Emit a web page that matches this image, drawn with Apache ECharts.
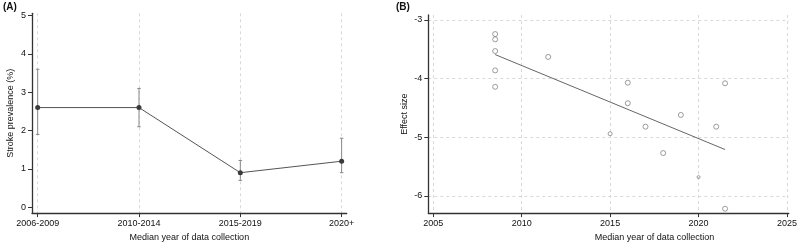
<!DOCTYPE html>
<html>
<head>
<meta charset="utf-8">
<script src="https://cdn.jsdelivr.net/npm/echarts@6/dist/echarts.min.js"></script>
<style>
    html, body { margin: 0; padding: 0; background: #fff; }
    #chart { width: 800px; height: 247px; }
</style>
</head>
<body>
<div id="chart"></div>
<script>
/* ===========================
   Data
=========================== */

// (A) stroke prevalence by period
const periods = ["2006-2009", "2010-2014", "2015-2019", "2020+"];
const prevalence = [2.6, 2.6, 0.9, 1.2];
const ciLow = [1.9, 2.1, 0.7, 0.9];
const ciHigh = [3.6, 3.1, 1.22, 1.8];
const prevTicks = [0, 1, 2, 3, 4, 5];

// (B) effect size vs median year
const years = [2008.5, 2008.5, 2008.5, 2008.5, 2008.5, 2011.5, 2016, 2016, 2015,
               2017, 2018, 2019, 2020, 2021, 2021.5, 2021.5];
const effects = [-3.24, -3.33, -3.53, -3.86, -4.14, -3.63, -4.07, -4.42, -4.94,
                 -4.82, -5.27, -4.62, -5.68, -4.82, -4.08, -6.22];
const weights = [1, 1, 1, 1, 1, 1, 1, 1, 0.8, 1, 1, 1, 0.6, 1, 1, 1];
const fitYears = [2008.5, 2021.5];
const fitEffects = [-3.59, -5.21];
const yearTicks = [2005, 2010, 2015, 2020, 2025];
const effectTicks = [-6, -5, -4, -3];

/* ===========================
   Styles
=========================== */

const FONT = "'Liberation Sans', Arial, sans-serif";
const AXIS_COLOR = "#333";
const GRID_LINE = { show: true, lineStyle: { color: "#d9d9d9", type: [3, 3], width: 1 } };

function axisBase(ticks, formatter) {
    return {
        type: "value",
        axisLine: { show: true, onZero: false, lineStyle: { color: AXIS_COLOR, width: 1.3 } },
        axisTick: { show: true, length: 4, customValues: ticks, lineStyle: { color: AXIS_COLOR } },
        axisLabel: {
            customValues: ticks,
            margin: 6,
            color: "#111",
            fontSize: 9,
            fontFamily: FONT,
            formatter: formatter || (v => String(v))
        },
        nameTextStyle: { color: "#111", fontSize: 9, fontFamily: FONT },
        nameLocation: "middle"
    };
}

/* ===========================
   Error bars
=========================== */

function renderErrorBar(params, api) {
    const x = api.value(0);
    const top = api.coord([x, api.value(2)]);
    const bot = api.coord([x, api.value(1)]);
    const cap = 1.8;
    const style = { stroke: "#888", lineWidth: 1 };
    return {
        type: "group",
        children: [
            { type: "line", shape: { x1: top[0], y1: top[1], x2: bot[0], y2: bot[1] }, style: style },
            { type: "line", shape: { x1: top[0] - cap, y1: top[1], x2: top[0] + cap, y2: top[1] }, style: style },
            { type: "line", shape: { x1: bot[0] - cap, y1: bot[1], x2: bot[0] + cap, y2: bot[1] }, style: style }
        ]
    };
}

/* ===========================
   Chart
=========================== */

const chart = echarts.init(document.getElementById("chart"), null, { renderer: "canvas" });

const xA = axisBase([0, 1, 2, 3], v => periods[Math.round(v)]);
Object.assign(xA, {
    gridIndex: 0, min: -0.056, max: 3.05,
    name: "Median year of data collection", nameGap: 16,
    splitLine: Object.assign({ customValues: [0, 1, 2, 3] }, GRID_LINE)
});

const yA = axisBase(prevTicks);
Object.assign(yA, {
    gridIndex: 0, min: -0.154, max: 5.06,
    name: "Stroke prevalence (%)", nameGap: 17,
    splitLine: { show: false }
});

const xB = axisBase(yearTicks);
Object.assign(xB, {
    gridIndex: 1, min: 2004.72, max: 2025.1,
    name: "Median year of data collection", nameGap: 16,
    splitLine: Object.assign({ customValues: yearTicks }, GRID_LINE)
});
xB.nameTextStyle.padding = [0, 0, 0, 92];

const yB = axisBase(effectTicks);
Object.assign(yB, {
    gridIndex: 1, min: -6.294, max: -2.915,
    name: "Effect size", nameGap: 19,
    splitLine: Object.assign({ customValues: effectTicks }, GRID_LINE)
});

chart.setOption({
    animation: false,
    backgroundColor: "#fff",
    grid: [
        { left: 32, top: 13.3, width: 314.7, height: 202.7 },
        { left: 428.3, top: 15, width: 361.7, height: 200 }
    ],
    graphic: [
        { type: "text", left: 3, top: 2, style: { text: "(A)", fontSize: 10, fontWeight: "bold", fontFamily: FONT, fill: "#111" } },
        { type: "text", left: 396, top: 2, style: { text: "(B)", fontSize: 10, fontWeight: "bold", fontFamily: FONT, fill: "#111" } }
    ],
    xAxis: [xA, xB],
    yAxis: [yA, yB],
    series: [
        {
            type: "custom",
            xAxisIndex: 0, yAxisIndex: 0,
            renderItem: renderErrorBar,
            data: periods.map((p, i) => [i, ciLow[i], ciHigh[i]]),
            z: 2
        },
        {
            type: "line",
            xAxisIndex: 0, yAxisIndex: 0,
            data: periods.map((p, i) => [i, prevalence[i]]),
            symbol: "circle",
            symbolSize: 5,
            itemStyle: { color: "#3a3a3a" },
            lineStyle: { color: "#555", width: 1 },
            z: 3
        },
        {
            type: "scatter",
            xAxisIndex: 1, yAxisIndex: 1,
            data: years.map((y, i) => [y, effects[i], weights[i]]),
            symbolSize: v => 5 * v[2],
            itemStyle: { color: "rgba(255,255,255,0)", borderColor: "#777", borderWidth: 0.9 },
            z: 3
        },
        {
            type: "line",
            xAxisIndex: 1, yAxisIndex: 1,
            data: fitYears.map((y, i) => [y, fitEffects[i]]),
            symbol: "none",
            lineStyle: { color: "#666", width: 1 },
            z: 2
        }
    ]
});
</script>
</body>
</html>
